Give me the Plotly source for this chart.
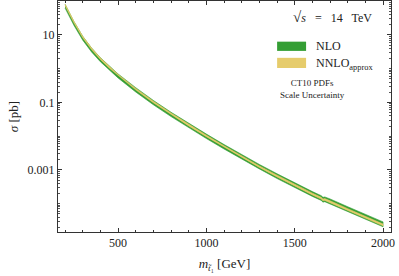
import plotly.graph_objects as go

# stop mass [GeV]
mass = [200, 250, 300, 350, 400, 450, 500, 600, 700, 800, 900, 1000, 1100, 1200,
        1300, 1400, 1500, 1600, 1650, 1660, 1670, 1700, 1800, 1900, 2000]
# NLO central cross section [pb]
nlo_pb = [70.8, 21.9, 7.94, 3.55, 1.82, 1.02, 0.603, 0.234, 0.0977, 0.0437, 0.0204,
          0.00977, 0.00479, 0.00240, 0.00123, 6.46e-4, 3.47e-4, 1.91e-4, 1.45e-4,
          1.29e-4, 1.33e-4, 1.15e-4, 6.76e-5, 3.98e-5, 2.40e-5]
# NLO scale uncertainty (fractional)
nlo_up = [0.15, 0.15, 0.15, 0.16, 0.16, 0.16, 0.16, 0.17, 0.17, 0.17, 0.17, 0.18, 0.18,
          0.18, 0.18, 0.19, 0.19, 0.19, 0.19, 0.19, 0.19, 0.20, 0.20, 0.20, 0.20]
nlo_dn = [0.12, 0.12, 0.12, 0.12, 0.12, 0.12, 0.12, 0.13, 0.13, 0.13, 0.13, 0.13, 0.13,
          0.13, 0.13, 0.14, 0.14, 0.14, 0.14, 0.14, 0.14, 0.14, 0.14, 0.14, 0.14]
# NNLO_approx central cross section [pb]
nnlo_pb = [77.9, 24.1, 8.65, 3.87, 1.97, 1.10, 0.645, 0.248, 0.1026, 0.0459, 0.0212,
           0.01016, 0.00493, 0.00247, 0.00125, 6.59e-4, 3.50e-4, 1.93e-4, 1.45e-4,
           1.29e-4, 1.33e-4, 1.15e-4, 6.69e-5, 3.94e-5, 2.35e-5]
# NNLO_approx scale uncertainty (fractional)
nnlo_up = [0.05, 0.05, 0.05, 0.05, 0.05, 0.05, 0.05, 0.05, 0.05, 0.05, 0.05, 0.05, 0.05,
           0.05, 0.05, 0.06, 0.06, 0.06, 0.06, 0.06, 0.06, 0.06, 0.06, 0.06, 0.06]
nnlo_dn = [0.05, 0.05, 0.05, 0.05, 0.05, 0.05, 0.05, 0.05, 0.05, 0.05, 0.05, 0.05, 0.05,
           0.05, 0.05, 0.06, 0.06, 0.06, 0.06, 0.06, 0.06, 0.06, 0.06, 0.06, 0.06]

x_ticks = [500, 1000, 1500, 2000]
y_tickvals = [1e-3, 1e-1, 10]
y_ticktext = ["0.001", "0.1", "10"]

GREEN = "rgb(52,158,52)"
YELLOW = "rgb(230,204,108)"
FONT = "Liberation Serif"


def band(center, up, dn, color, name):
    hi = [c * (1 + u) for c, u in zip(center, up)]
    lo = [c * (1 - d) for c, d in zip(center, dn)]
    return go.Scatter(
        x=mass + mass[::-1], y=hi + lo[::-1], fill="toself", fillcolor=color,
        line=dict(color=color, width=0.6), mode="lines", name=name,
        hoverinfo="skip", showlegend=False)


fig = go.Figure()
fig.add_trace(band(nlo_pb, nlo_up, nlo_dn, GREEN, "NLO"))
fig.add_trace(band(nnlo_pb, nnlo_up, nnlo_dn, YELLOW, "NNLO_approx"))

axis_common = dict(showline=True, linecolor="#333", linewidth=1, mirror="allticks",
                   ticks="inside", tickcolor="#333", showgrid=False, zeroline=False,
                   automargin=False,
                   tickfont=dict(family=FONT, size=12, color="#222"))

fig.update_xaxes(range=[160, 2045], tickvals=x_ticks, ticklen=4,
                 minor=dict(dtick=100, tick0=0, ticks="inside", ticklen=2, tickcolor="#333"),
                 title=dict(text="<i>m</i><sub><i>t\u0303</i>\u2081</sub> [GeV]",
                            font=dict(family=FONT, size=13, color="#222"), standoff=9),
                 **axis_common)
fig.update_yaxes(type="log", range=[-4.84, 2.005], tickvals=y_tickvals, ticktext=y_ticktext,
                 ticklen=4,
                 minor=dict(dtick="D1", ticks="inside", ticklen=2, tickcolor="#555"),
                 title=dict(text="<i>\u03c3</i> [pb]", font=dict(family=FONT, size=13, color="#222"),
                            standoff=6),
                 **axis_common)

# legend-like annotations
fig.add_annotation(xref="paper", yref="paper", x=0.825, y=0.93, xanchor="center", yanchor="middle",
                   text="<span style='font-size:15px'>\u221a</span><i>s</i>\u2002 =\u2002 14\u2002 TeV",
                   showarrow=False, font=dict(family=FONT, size=12, color="#222"))
fig.add_shape(type="rect", xref="paper", yref="paper", x0=0.658, x1=0.745, y0=0.784, y1=0.824,
              fillcolor=GREEN, line=dict(width=0))
fig.add_shape(type="rect", xref="paper", yref="paper", x0=0.658, x1=0.745, y0=0.71, y1=0.754,
              fillcolor=YELLOW, line=dict(width=0))
fig.add_annotation(xref="paper", yref="paper", x=0.77, y=0.805, xanchor="left", yanchor="middle",
                   text="NLO", showarrow=False, font=dict(family=FONT, size=12, color="#222"))
fig.add_annotation(xref="paper", yref="paper", x=0.77, y=0.728, xanchor="left", yanchor="middle",
                   text="NNLO<sub>approx</sub>", showarrow=False,
                   font=dict(family=FONT, size=12, color="#222"))
fig.add_annotation(xref="paper", yref="paper", x=0.765, y=0.62, xanchor="center", yanchor="middle",
                   text="CT10 PDFs<br>Scale Uncertainty", showarrow=False,
                   font=dict(family=FONT, size=9, color="#222"))

fig.update_layout(width=399, height=276, margin=dict(l=58, r=8, t=1, b=44),
                  paper_bgcolor="white", plot_bgcolor="white", showlegend=False)

fig.write_html("out.html", config={"displayModeBar": False},
               post_script="document.body.style.margin='0';document.body.style.padding='0';")
